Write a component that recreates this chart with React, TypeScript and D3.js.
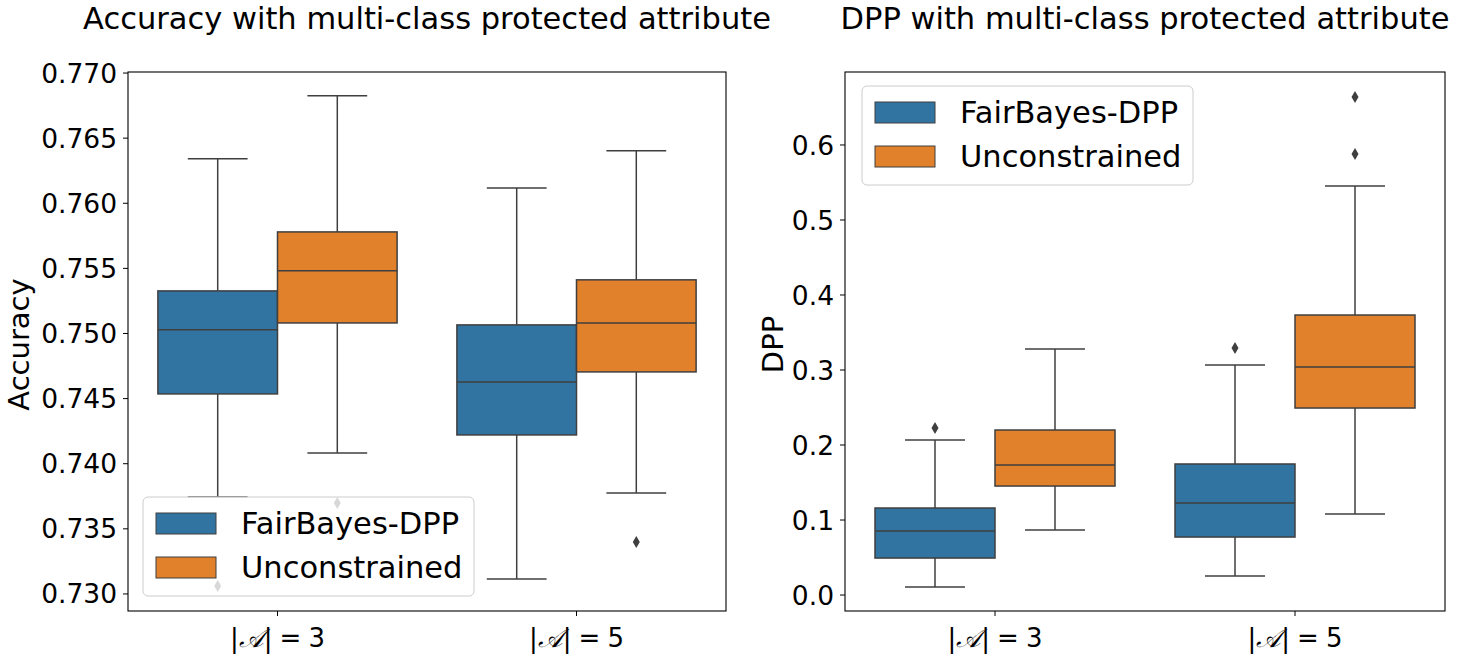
import { useEffect } from 'react';
import * as d3 from 'd3';

// categories and series
const groups = ['3', '5'];
const series = ['FairBayes-DPP', 'Unconstrained'];
const colors = ['#3274a1', '#e1812c'];

// box stats: [whisker low, q1, median, q3, whisker high]
const accFairStats = [
  [0.73745, 0.74536, 0.75028, 0.75327, 0.76341],
  [0.73115, 0.74221, 0.74628, 0.75066, 0.76118],
];
const accUncStats = [
  [0.74083, 0.75081, 0.75481, 0.7578, 0.76825],
  [0.73776, 0.74705, 0.75081, 0.75412, 0.76403],
];
const accFairOutliers = [[0.73061], []];
const accUncOutliers = [[0.73699], [0.73399]];

const dppFairStats = [
  [0.0107, 0.0493, 0.0853, 0.116, 0.2067],
  [0.0253, 0.0773, 0.1227, 0.1747, 0.3067],
];
const dppUncStats = [
  [0.0867, 0.1453, 0.1733, 0.22, 0.328],
  [0.108, 0.2493, 0.304, 0.3733, 0.5453],
];
const dppFairOutliers = [[0.2227], [0.3293]];
const dppUncOutliers = [[], [0.588, 0.664]];

const accTicks = [0.73, 0.735, 0.74, 0.745, 0.75, 0.755, 0.76, 0.765, 0.77];
const dppTicks = [0, 0.1, 0.2, 0.3, 0.4, 0.5, 0.6];

const FONT = 'DejaVu Sans, sans-serif';
const LINE = '#3f3f3f';

interface PanelProps {
  left: number;
  width: number;
  top: number;
  height: number;
  domain: [number, number];
  ticks: number[];
  tickFmt: (v: number) => string;
  title: string;
  ylabel: string;
  ylabelX: number;
  stats: number[][][];
  outliers: number[][][];
  legend: { x: number; y: number };
}

function Panel(p: PanelProps) {
  const y = d3.scaleLinear().domain(p.domain).range([p.top + p.height, p.top]);
  const x = d3.scaleLinear().domain([-0.5, 1.5]).range([p.left, p.left + p.width]);
  const boxW = x(0.4) - x(0);
  return (
    <g>
      <text x={p.left + p.width / 2} y={29} textAnchor="middle" fontSize={30.5} fontFamily={FONT}>{p.title}</text>
      <text transform={`translate(${p.ylabelX},${p.top + p.height / 2 + 3}) rotate(-90)`} textAnchor="middle" fontSize={29} fontFamily={FONT}>{p.ylabel}</text>
      {p.ticks.map((t) => (
        <g key={t}>
          <line x1={p.left - 5} x2={p.left} y1={y(t)} y2={y(t)} stroke="#000" strokeWidth={1} />
          <text x={p.left - 11} y={y(t)} dy="0.36em" textAnchor="end" fontSize={26.5} fontFamily={FONT}>{p.tickFmt(t)}</text>
        </g>
      ))}
      {groups.map((gname, gi) => (
        <g key={gname}>
          <line x1={x(gi)} x2={x(gi)} y1={p.top + p.height} y2={p.top + p.height + 5} stroke="#000" strokeWidth={1} />
          <text x={x(gi)} y={p.top + p.height + 36} textAnchor="middle" fontSize={26} fontFamily={FONT}>
            <tspan>|</tspan>
            <tspan fontFamily="DejaVu Serif, serif" fontStyle="italic">𝒜</tspan>
            <tspan>|</tspan>
            <tspan dx={7}>=</tspan>
            <tspan dx={7}>{gname}</tspan>
          </text>
        </g>
      ))}
      {series.map((s, si) =>
        groups.map((gname, gi) => {
          const [lo, q1, med, q3, hi] = p.stats[si][gi];
          const cx = x(gi - 0.2 + si * 0.4);
          const x0 = cx - boxW / 2;
          return (
            <g key={s + gname}>
              <line x1={cx} x2={cx} y1={y(q3)} y2={y(hi)} stroke={LINE} strokeWidth={1.5} />
              <line x1={cx} x2={cx} y1={y(q1)} y2={y(lo)} stroke={LINE} strokeWidth={1.5} />
              <line x1={cx - boxW / 4} x2={cx + boxW / 4} y1={y(hi)} y2={y(hi)} stroke={LINE} strokeWidth={1.5} />
              <line x1={cx - boxW / 4} x2={cx + boxW / 4} y1={y(lo)} y2={y(lo)} stroke={LINE} strokeWidth={1.5} />
              <rect x={x0} y={y(q3)} width={boxW} height={y(q1) - y(q3)} fill={colors[si]} stroke={LINE} strokeWidth={1.5} />
              <line x1={x0} x2={x0 + boxW} y1={y(med)} y2={y(med)} stroke={LINE} strokeWidth={1.5} />
              {p.outliers[si][gi].map((o, oi) => (
                <path key={oi} d={`M${cx},${y(o) - 6}L${cx + 3.5},${y(o)}L${cx},${y(o) + 6}L${cx - 3.5},${y(o)}Z`} fill={LINE} />
              ))}
            </g>
          );
        })
      )}
      <rect x={p.left} y={p.top} width={p.width} height={p.height} fill="none" stroke="#000" strokeWidth={1.1} />
      <g transform={`translate(${p.legend.x},${p.legend.y})`}>
        <rect x={0} y={0} width={331} height={99} rx={5} fill="#fff" fillOpacity={0.8} stroke="#cccccc" strokeWidth={1} />
        {series.map((s, si) => (
          <g key={s} transform={`translate(0,${26 + si * 44})`}>
            <rect x={13} y={-10} width={60} height={21} fill={colors[si]} stroke={LINE} strokeWidth={1} />
            <text x={98} y={0} dy="0.36em" fontSize={30.5} fontFamily={FONT}>{s}</text>
          </g>
        ))}
      </g>
    </g>
  );
}

export default function App() {
  useEffect(() => {
    document.body.style.margin = '0';
  }, []);
  return (
    <svg width={1459} height={662} style={{ display: 'block', background: '#fff' }}>
      <Panel
        left={128}
        width={598}
        top={72}
        height={539}
        domain={[0.72869, 0.77008]}
        ticks={accTicks}
        tickFmt={d3.format('.3f')}
        title="Accuracy with multi-class protected attribute"
        ylabel="Accuracy"
        ylabelX={29}
        stats={[accFairStats, accUncStats]}
        outliers={[accFairOutliers, accUncOutliers]}
        legend={{ x: 143, y: 497 }}
      />
      <Panel
        left={845}
        width={600}
        top={72}
        height={539}
        domain={[-0.0213, 0.6973]}
        ticks={dppTicks}
        tickFmt={d3.format('.1f')}
        title="DPP with multi-class protected attribute"
        ylabel="DPP"
        ylabelX={783}
        stats={[dppFairStats, dppUncStats]}
        outliers={[dppFairOutliers, dppUncOutliers]}
        legend={{ x: 862, y: 86 }}
      />
    </svg>
  );
}
